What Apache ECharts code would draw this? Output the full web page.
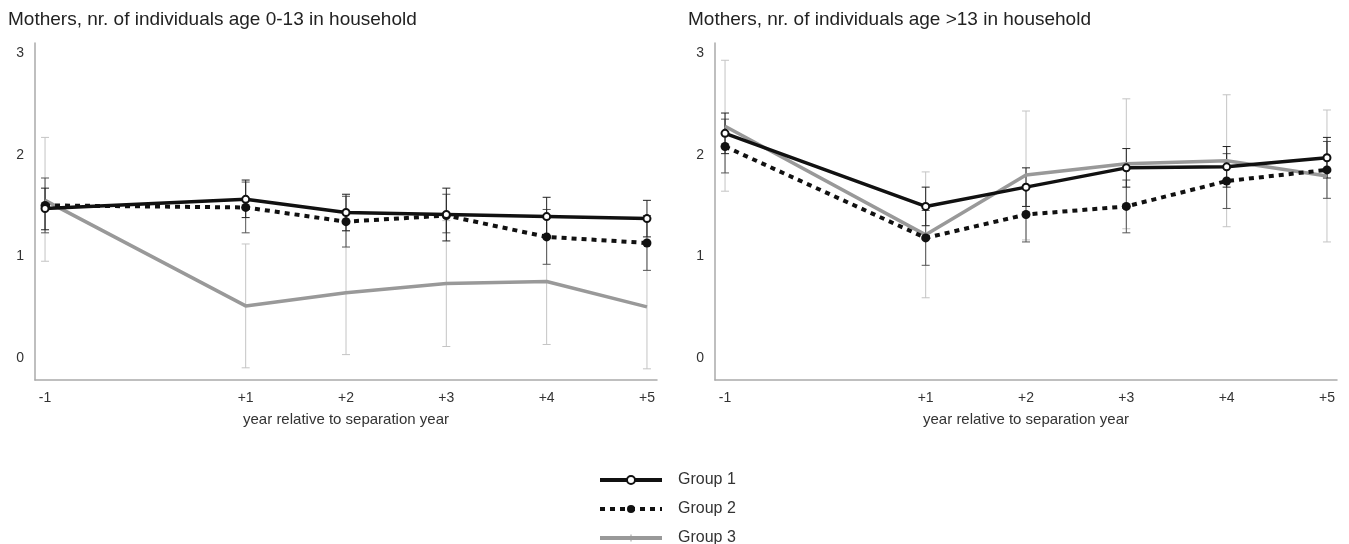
<!DOCTYPE html>
<html>
<head>
<meta charset="utf-8">
<script src="https://cdn.jsdelivr.net/npm/echarts@6/dist/echarts.min.js"></script>
<style>
  html, body { margin: 0; padding: 0; background: #fff; }
  #chart { width: 1349px; height: 544px; }
</style>
</head>
<body>
<div id="chart"></div>
<script>
// years relative to separation (there is no year 0)
const years = [-1, 1, 2, 3, 4, 5];
const groupNames = ['Group 1', 'Group 2', 'Group 3'];

// left panel: individuals age 0-13
const g1Young = [1.47, 1.56, 1.43, 1.41, 1.39, 1.37];
const g1YoungLo = [1.26, 1.38, 1.25, 1.15, 1.20, 1.19];
const g1YoungHi = [1.67, 1.75, 1.61, 1.67, 1.58, 1.55];
const g2Young = [1.50, 1.48, 1.34, 1.40, 1.19, 1.13];
const g2YoungLo = [1.23, 1.23, 1.09, 1.23, 0.92, 0.86];
const g2YoungHi = [1.77, 1.73, 1.59, 1.61, 1.46, 1.40];
const g3Young = [1.55, 0.51, 0.64, 0.73, 0.75, 0.50];
const g3YoungLo = [0.95, -0.10, 0.03, 0.11, 0.13, -0.11];
const g3YoungHi = [2.17, 1.12, 1.25, 1.35, 1.37, 1.11];

// right panel: individuals age >13
const g1Old = [2.21, 1.49, 1.68, 1.87, 1.88, 1.97];
const g1OldLo = [2.01, 1.30, 1.49, 1.68, 1.68, 1.77];
const g1OldHi = [2.41, 1.68, 1.87, 2.06, 2.08, 2.17];
const g2Old = [2.08, 1.18, 1.41, 1.49, 1.74, 1.85];
const g2OldLo = [1.82, 0.91, 1.14, 1.23, 1.47, 1.57];
const g2OldHi = [2.35, 1.45, 1.68, 1.75, 2.01, 2.13];
const g3Old = [2.28, 1.21, 1.80, 1.91, 1.94, 1.79];
const g3OldLo = [1.64, 0.59, 1.16, 1.27, 1.29, 1.14];
const g3OldHi = [2.93, 1.83, 2.43, 2.55, 2.59, 2.44];

const font = '"Liberation Sans", Arial, sans-serif';

// legend icon for group 3: plain gray bar with a small tick (corner specks keep the box size)
const g3Icon = 'path://M0,0L0.01,0L0,0.01Z M62,10L61.99,10L62,9.99Z M0,3H62V7H0Z M30.5,1.5H31.5V8.5H30.5Z';

function isWhole(v) {
    return Math.abs(v - Math.round(v)) < 1e-6;
}

function points(vals) {
    return years.map((y, i) => [y, vals[i]]);
}

function bars(lo, hi) {
    return years.map((y, i) => [y, lo[i], hi[i]]);
}

// vertical whisker with small caps
function errorBar(color) {
    return function (params, api) {
        const x = api.value(0);
        const lo = api.coord([x, api.value(1)]);
        const hi = api.coord([x, api.value(2)]);
        const w = 4;
        const style = { stroke: color, lineWidth: 1 };
        return {
            type: 'group',
            children: [
                { type: 'line', shape: { x1: lo[0], y1: lo[1], x2: hi[0], y2: hi[1] }, style: style },
                { type: 'line', shape: { x1: lo[0] - w, y1: lo[1], x2: lo[0] + w, y2: lo[1] }, style: style },
                { type: 'line', shape: { x1: hi[0] - w, y1: hi[1], x2: hi[0] + w, y2: hi[1] }, style: style }
            ]
        };
    };
}

function xAxis(idx) {
    return {
        type: 'value', gridIndex: idx,
        min: -1.1, max: 5.1, interval: 0.1,
        name: 'year relative to separation year',
        nameLocation: 'middle', nameGap: 32,
        nameTextStyle: { color: '#333', fontSize: 15, fontFamily: font },
        axisLine: { onZero: false, lineStyle: { color: '#aaa', width: 1.5 } },
        axisTick: { show: false },
        splitLine: { show: false },
        axisLabel: {
            color: '#333', fontSize: 14, fontFamily: font, margin: 11,
            formatter: function (v) {
                if (!isWhole(v) || Math.round(v) === 0) return '';
                const n = Math.round(v);
                return n > 0 ? '+' + n : String(n);
            }
        }
    };
}

function yAxis(idx) {
    return {
        type: 'value', gridIndex: idx,
        min: -0.22, max: 3.1, interval: 0.02,
        axisLine: { show: true, onZero: false, lineStyle: { color: '#aaa', width: 1.5 } },
        axisTick: { show: false },
        splitLine: { show: false },
        axisLabel: {
            color: '#333', fontSize: 14, fontFamily: font, margin: 11,
            formatter: function (v) {
                return isWhole(v) ? String(Math.round(v)) : '';
            }
        }
    };
}

function panelSeries(idx, g1, g2, g3, lo1, hi1, lo2, hi2, lo3, hi3) {
    const ax = { xAxisIndex: idx, yAxisIndex: idx };
    return [
        Object.assign({ type: 'custom', renderItem: errorBar('#c4c4c4'), data: bars(lo3, hi3), z: 1, silent: true, encode: { x: 0, y: [1, 2] } }, ax),
        Object.assign({ type: 'custom', renderItem: errorBar('#555'), data: bars(lo2, hi2), z: 1, silent: true, encode: { x: 0, y: [1, 2] } }, ax),
        Object.assign({ type: 'custom', renderItem: errorBar('#222'), data: bars(lo1, hi1), z: 1, silent: true, encode: { x: 0, y: [1, 2] } }, ax),
        Object.assign({
            name: 'Group 3', type: 'line', data: points(g3), z: 3,
            symbol: 'none', lineStyle: { color: '#999', width: 3.5 }, itemStyle: { color: '#999' }
        }, ax),
        Object.assign({
            name: 'Group 2', type: 'line', data: points(g2), z: 4,
            symbol: 'circle', symbolSize: 9,
            lineStyle: { color: '#111', width: 4, type: [5, 5] }, itemStyle: { color: '#111' }
        }, ax),
        Object.assign({
            name: 'Group 1', type: 'line', data: points(g1), z: 5,
            symbol: 'emptyCircle', symbolSize: 7,
            lineStyle: { color: '#111', width: 3.5 }, itemStyle: { color: '#111', borderColor: '#333', borderWidth: 1 }
        }, ax)
    ];
}

const chart = echarts.init(document.getElementById('chart'));

chart.setOption({
    animation: false,
    backgroundColor: '#fff',
    title: [
        { text: 'Mothers, nr. of individuals age 0-13 in household', left: 3, top: 5,
          textStyle: { color: '#222', fontSize: 19, fontWeight: 'normal', fontFamily: font } },
        { text: 'Mothers, nr. of individuals age >13 in household', left: 683, top: 5,
          textStyle: { color: '#222', fontSize: 19, fontWeight: 'normal', fontFamily: font } }
    ],
    legend: {
        data: ['Group 1', 'Group 2', { name: 'Group 3', icon: g3Icon }],
        orient: 'vertical',
        left: 598, top: 472, height: 120, padding: 0,
        itemWidth: 62, itemHeight: 10, itemGap: 13,
        lineStyle: { width: 4 },
        textStyle: { color: '#333', fontSize: 16, lineHeight: 14, fontFamily: font, padding: [0, 0, 0, 11] }
    },
    grid: [
        { left: 35, top: 43, width: 622, height: 337 },
        { left: 715, top: 43, width: 622, height: 337 }
    ],
    xAxis: [xAxis(0), xAxis(1)],
    yAxis: [yAxis(0), yAxis(1)],
    series: [].concat(
        panelSeries(0, g1Young, g2Young, g3Young, g1YoungLo, g1YoungHi, g2YoungLo, g2YoungHi, g3YoungLo, g3YoungHi),
        panelSeries(1, g1Old, g2Old, g3Old, g1OldLo, g1OldHi, g2OldLo, g2OldHi, g3OldLo, g3OldHi)
    )
});
</script>
</body>
</html>
